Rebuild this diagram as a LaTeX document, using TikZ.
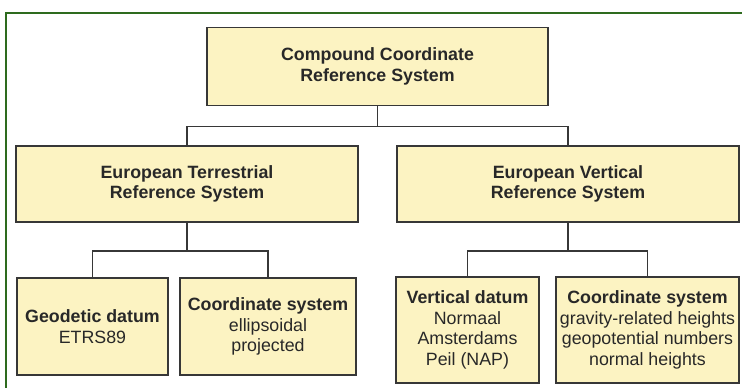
\documentclass[tikz,border=0pt]{standalone}
\usepackage{fontspec}
\setmainfont{Liberation Sans}
\usetikzlibrary{positioning}

\definecolor{boxfill}{RGB}{252,243,194}
\definecolor{boxline}{RGB}{55,55,55}
\definecolor{textgray}{RGB}{40,40,40}
\definecolor{framegreen}{RGB}{46,107,30}

\begin{document}
\begin{tikzpicture}[
    x=1pt, y=-1pt,
    every node/.style={font=\fontsize{17.8}{20.5}\selectfont, text=textgray},
    crsbox/.style={draw=boxline, fill=boxfill, line width=1.9pt, rectangle, align=center, inner sep=1pt},
    line/.style={draw=boxline, line width=1.9pt}
]
    \useasboundingbox (0,0) rectangle (742,388);

    % Frame
    \draw [framegreen, line width=2pt] (6,388) -- (6,13) -- (742,13);

    % Top
    \node (compound) [crsbox, minimum width=341pt, minimum height=78pt] at (377.5,66.5)
        {\bfseries Compound Coordinate\\\bfseries Reference System};

    % Middle level
    \node (etrs) [crsbox, minimum width=342pt, minimum height=76pt] at (187,184)
        {\bfseries European Terrestrial\\\bfseries Reference System};
    \node (evrs) [crsbox, minimum width=342pt, minimum height=76pt] at (568,184)
        {\bfseries European Vertical\\\bfseries Reference System};

    % Bottom level
    \node (geodatum) [crsbox, minimum width=151pt, minimum height=97pt] at (92.5,326.5)
        {\textbf{Geodetic datum}\\ETRS89};
    \node (geocs) [crsbox, minimum width=176pt, minimum height=97pt] at (268,326.5)
        {\textbf{Coordinate system}\\ellipsoidal\\projected};
    \node (vertdatum) [crsbox, minimum width=143pt, minimum height=106pt] at (467.5,330)
        {\textbf{Vertical datum}\\Normaal\\Amsterdams\\Peil (NAP)};
    \node (vertcs) [crsbox, minimum width=183pt, minimum height=106pt] at (647.5,330)
        {\textbf{Coordinate system}\\gravity-related heights\\geopotential numbers\\normal heights};

    % Connections
    \draw [line] (compound.south) -- ++(0,20) coordinate (topfork);
    \draw [line] (topfork) -| (etrs.north);
    \draw [line] (topfork) -| (evrs.north);

    \draw [line] (etrs.south) -- ++(0,28) coordinate (leftfork);
    \draw [line] (leftfork) -| (geodatum.north);
    \draw [line] (leftfork) -| (geocs.north);

    \draw [line] (evrs.south) -- ++(0,28) coordinate (rightfork);
    \draw [line] (rightfork) -| (vertdatum.north);
    \draw [line] (rightfork) -| (vertcs.north);

\end{tikzpicture}
\end{document}
